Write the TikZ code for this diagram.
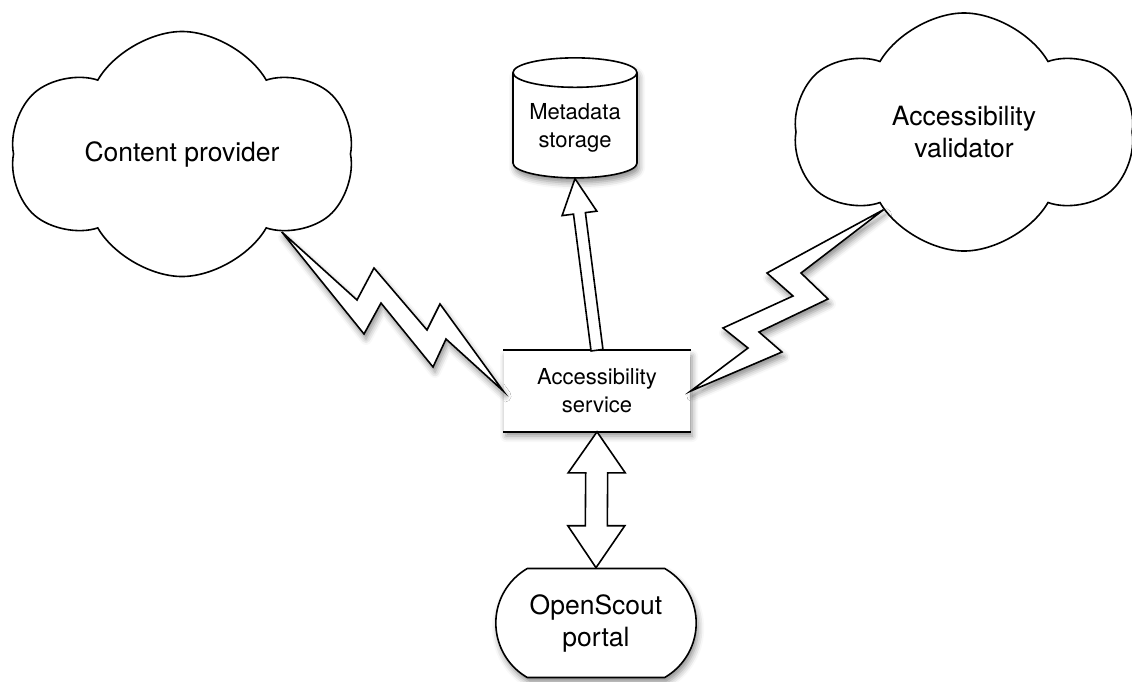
\documentclass[tikz,border=0pt]{standalone}
\usepackage{fontspec}
\setmainfont{TeX Gyre Heros}
\usepackage{tikz}
\usetikzlibrary{shapes.geometric, shapes.symbols, shapes.misc, shadows.blur, calc}

\begin{document}
\begin{tikzpicture}[x=1pt, y=-1pt, line width=1.6pt]
    \tikzstyle{bigtext} = [font=\fontsize{26.5}{32}\selectfont, align=center]
    \tikzstyle{smalltext} = [font=\fontsize{22}{28}\selectfont, align=center]
    \tikzstyle{dropshade} = [blur shadow={shadow xshift=2pt, shadow yshift=-5pt, shadow blur radius=6pt, shadow opacity=45}]
    \tikzstyle{partner} = [cloud, cloud puffs=6, cloud puff arc=120, cloud ignores aspect, draw=black, fill=white, bigtext]
    \tikzstyle{storage} = [cylinder, shape border rotate=90, aspect=0.3, minimum width=124pt, minimum height=120pt, draw=black, fill=white, dropshade, smalltext]
    \tikzstyle{service} = [rectangle, minimum width=186pt, minimum height=80pt, fill=white, dropshade, smalltext]
    \tikzstyle{portal} = [rounded rectangle, rounded rectangle arc length=120, minimum width=207pt, minimum height=109pt, draw=black, fill=white, dropshade, bigtext]
    \tikzstyle{bolt} = [draw=black, fill=white, line join=miter, dropshade]
    \tikzstyle{blockarrow} = [draw=black, fill=white, line join=miter]

    \useasboundingbox (0,0) rectangle (1132,681);

    \node (cp) [partner, minimum width=341pt, minimum height=245pt] at (182,154) {Content provider};
    \node (av) [partner, minimum width=338pt, minimum height=238pt] at (964,132) {Accessibility\\validator};
    \node (meta) [storage] at (575,128) {Metadata\\storage};
    \node (svc) [service] at (597,391) {Accessibility\\service};
    \node (os) [portal] at (596,623) {OpenScout\\portal};

    \draw (svc.north west) -- (svc.north east);
    \draw (svc.south west) -- (svc.south east);

    % wireless links
    \draw [bolt] (cp.-38) -- (357,300) -- (374,268) -- (427,330) -- (440,304) -- (svc.west)
        -- (446,339) -- (433,367) -- (381,303) -- (364,334) -- cycle;
    \draw [bolt] (svc.east) -- (748,348) -- (723,328) -- (793,296) -- (767,273) -- (av.224)
        -- (801,273) -- (828,299) -- (759,332) -- (782,352) -- cycle;

    % block arrows
    \coordinate (mb) at ($(meta.south)!35pt!(svc.north)$);
    \draw [blockarrow] ($(svc.north)!6pt!90:(meta.south)$) -- ($(mb)!6pt!90:(meta.south)$)
        -- ($(mb)!17.5pt!90:(meta.south)$) -- (meta.south) -- ($(mb)!17.5pt!-90:(meta.south)$)
        -- ($(mb)!6pt!-90:(meta.south)$) -- ($(svc.north)!6pt!-90:(meta.south)$) -- cycle;

    \coordinate (uh) at ($(svc.south)!41pt!(os.north)$);
    \coordinate (lh) at ($(os.north)!42pt!(svc.south)$);
    \draw [blockarrow] (svc.south) -- ($(uh)+(28.5,0)$) -- ($(uh)+(11,0)$) -- ($(lh)+(11,0)$)
        -- ($(lh)+(28.5,0)$) -- (os.north) -- ($(lh)+(-28.5,0)$) -- ($(lh)+(-11,0)$)
        -- ($(uh)+(-11,0)$) -- ($(uh)+(-28.5,0)$) -- cycle;

\end{tikzpicture}
\end{document}
